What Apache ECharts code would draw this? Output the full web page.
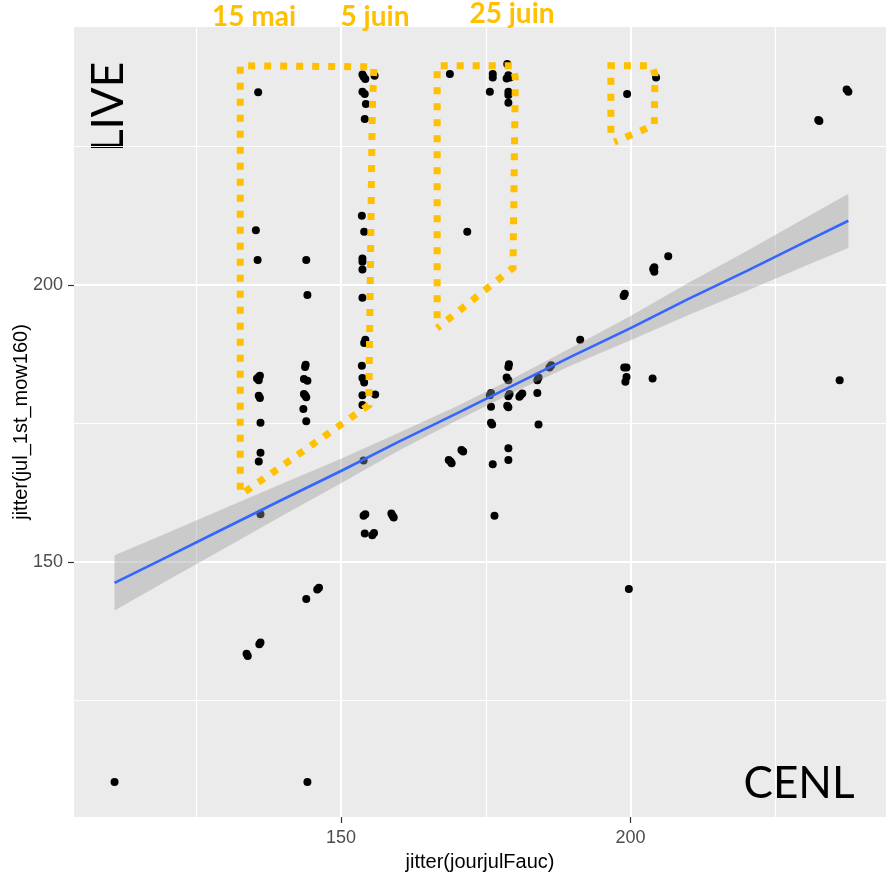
<!DOCTYPE html>
<html>
<head>
<meta charset="utf-8">
<script src="https://cdn.jsdelivr.net/npm/echarts@6/dist/echarts.min.js"></script>
<style>
  html, body { margin: 0; padding: 0; background: #fff; }
  #chart { width: 896px; height: 879px; }
</style>
</head>
<body>
<div id="chart"></div>
<script>
// points: [jitter(jourjulFauc), jitter(jul_1st_mow160)]
var points = [
  [135.7, 234.8], [153.9, 237.6], [154.2, 237.2], [153.7, 238.0], [155.8, 237.8],
  [153.7, 234.9], [154.1, 234.5], [154.3, 232.7], [154.1, 230.0],
  [168.8, 238.1], [176.2, 238.1], [176.2, 237.5], [178.7, 239.9],
  [178.9, 237.9], [179.2, 237.5], [178.6, 237.3], [175.7, 234.9],
  [178.9, 234.9], [178.9, 234.3], [178.9, 232.9], [204.4, 237.5], [199.4, 234.5],
  [232.4, 229.8], [232.6, 229.6], [237.6, 234.9], [237.3, 235.3],
  [135.3, 209.9], [135.6, 204.5], [144.0, 204.5], [144.2, 198.2],
  [153.6, 212.5], [154.0, 209.6], [153.7, 204.8], [153.7, 204.2], [153.7, 202.8],
  [153.7, 197.7], [154.2, 190.1], [154.0, 189.5], [171.8, 209.6],
  [206.5, 205.2], [204.1, 203.2], [204.1, 202.4], [203.9, 202.9],
  [198.8, 198.0], [199.0, 198.4],
  [135.8, 183.4], [135.8, 182.8], [135.5, 183.1], [136.0, 183.6],
  [135.8, 180.0], [136.0, 179.6], [136.1, 175.1], [136.1, 169.7], [135.8, 168.1],
  [136.1, 158.6],
  [143.8, 185.2], [143.9, 185.6], [143.6, 183.0], [144.2, 182.7],
  [143.8, 180.1], [144.0, 179.7], [143.6, 180.3], [143.5, 177.6], [144.0, 175.4],
  [153.6, 185.4], [153.7, 183.2], [154.0, 182.4], [153.7, 180.1], [155.9, 180.2],
  [153.7, 178.3], [153.9, 168.3],
  [153.9, 158.3], [154.2, 158.6], [158.9, 158.3], [158.7, 158.7], [159.1, 158.0],
  [154.1, 155.1], [155.7, 155.2], [155.4, 154.8],
  [144.0, 143.3], [145.9, 145.0], [146.2, 145.3],
  [135.9, 135.1], [136.1, 135.4], [133.7, 133.4], [133.9, 133.0],
  [191.3, 190.1], [186.0, 185.1], [186.3, 185.5], [183.9, 182.8], [184.1, 183.3],
  [183.9, 180.5], [184.1, 174.8],
  [178.9, 185.2], [179.0, 185.7], [178.9, 182.8], [178.6, 183.3],
  [178.9, 179.9], [179.1, 180.3], [178.9, 177.9], [178.7, 178.2],
  [181.0, 180.1], [181.3, 180.4], [180.8, 179.8],
  [175.7, 180.1], [175.9, 180.5], [175.9, 178.0], [175.9, 175.1], [176.1, 174.8],
  [178.9, 170.5], [178.9, 168.4], [176.2, 167.6],
  [168.9, 168.1], [168.6, 168.4], [169.1, 167.8], [170.8, 170.2], [171.1, 169.9],
  [176.5, 158.3],
  [198.9, 185.1], [199.3, 185.1], [199.3, 183.4], [199.1, 182.5], [203.8, 183.1],
  [236.1, 182.8], [199.7, 145.1],
  [110.9, 110.2], [144.2, 110.2]
];

// smoothing line (lm) and its confidence band, read at a few x positions
var fitX    = [110.9, 120, 130, 140, 150, 160, 170, 180, 190, 200, 210, 220, 230, 237.6];
var fitY    = [146.2, 150.9, 156.1, 161.3, 166.4, 171.7, 176.8, 182.0, 187.2, 192.2, 197.5, 202.5, 207.7, 211.6];
var bandHalf = [5.0, 4.3, 3.6, 2.9, 2.2, 1.6, 1.3, 1.3, 1.6, 2.2, 2.9, 3.6, 4.3, 4.9];

var majorBreaks = [150, 200];
var minorBreaks = [125, 175, 225];

// hand drawn outlines (data coordinates)
var outline15mai = [[132.6, 163.0], [132.6, 239.6], [155.7, 239.4], [155.4, 231.6], [154.8, 178.3], [133.1, 162.4]];
var outline25juin = [[166.6, 194.0], [166.6, 239.6], [179.7, 239.6], [180.1, 237.4], [179.7, 203.1], [166.6, 192.2]];
var outline200 = [[196.6, 227.5], [196.6, 239.6], [203.7, 239.6], [204.2, 238.1], [204.1, 228.9], [197.2, 225.8]];

var dateLabels = ['15 mai', '5 juin', '25 juin'];

var chart = echarts.init(document.getElementById('chart'));

var gridLines = [];
majorBreaks.forEach(function (v) {
  gridLines.push({ xAxis: v, lineStyle: { width: 2 } });
  gridLines.push({ yAxis: v, lineStyle: { width: 2 } });
});
minorBreaks.forEach(function (v) {
  gridLines.push({ xAxis: v, lineStyle: { width: 1.2 } });
  gridLines.push({ yAxis: v, lineStyle: { width: 1.2 } });
});

function dotted(data) {
  return {
    type: 'line',
    data: data,
    z: 10,
    showSymbol: false,
    silent: true,
    lineStyle: { color: '#FFC000', width: 7, type: [7, 9], cap: 'butt', join: 'miter' }
  };
}

var fitData = fitX.map(function (x, i) { return [x, fitY[i]]; });

var axisFont = 'Liberation Sans, Arial, sans-serif';

chart.setOption({
  animation: false,
  backgroundColor: '#ffffff',
  grid: {
    left: 74, right: 10, top: 27, bottom: 62,
    containLabel: false,
    outerBoundsMode: 'none',
    show: true, backgroundColor: '#EBEBEB', borderWidth: 0
  },
  xAxis: {
    type: 'value',
    min: 103.9, max: 244.1,
    name: 'jitter(jourjulFauc)',
    nameLocation: 'middle',
    nameGap: 35,
    nameTextStyle: { color: '#000', fontSize: 20, fontFamily: axisFont },
    axisLine: { show: false },
    splitLine: { show: false },
    axisTick: { show: true, customValues: majorBreaks, length: 6, lineStyle: { color: '#333333', width: 1.2 } },
    axisLabel: { customValues: majorBreaks, color: '#4D4D4D', fontSize: 18, fontFamily: axisFont, margin: 12 }
  },
  yAxis: {
    type: 'value',
    min: 103.9, max: 246.6,
    name: 'jitter(jul_1st_mow160)',
    nameLocation: 'middle',
    nameGap: 43,
    nameMoveOverlap: false,
    nameTextStyle: { color: '#000', fontSize: 20, fontFamily: axisFont },
    axisLine: { show: false },
    splitLine: { show: false },
    axisTick: { show: true, customValues: majorBreaks, length: 6, lineStyle: { color: '#333333', width: 1.2 } },
    axisLabel: { customValues: majorBreaks, color: '#4D4D4D', fontSize: 18, fontFamily: axisFont, margin: 11 }
  },
  series: [
    {
      type: 'scatter',
      data: [],
      z: 1,
      silent: true,
      markLine: {
        z: 1,
        silent: true,
        symbol: ['none', 'none'],
        label: { show: false },
        lineStyle: { color: '#FFFFFF', type: 'solid' },
        data: gridLines
      }
    },
    {
      type: 'scatter',
      data: points,
      z: 2,
      symbol: 'circle',
      symbolSize: 8,
      itemStyle: { color: '#000000', opacity: 1 }
    },
    {
      type: 'custom',
      z: 3,
      silent: true,
      data: [0],
      renderItem: function (params, api) {
        var pts = [];
        for (var i = 0; i < fitX.length; i++) pts.push(api.coord([fitX[i], fitY[i] + bandHalf[i]]));
        for (var j = fitX.length - 1; j >= 0; j--) pts.push(api.coord([fitX[j], fitY[j] - bandHalf[j]]));
        return {
          type: 'polygon',
          shape: { points: pts },
          style: { fill: 'rgba(153,153,153,0.4)' }
        };
      }
    },
    {
      type: 'line',
      data: fitData,
      z: 4,
      showSymbol: false,
      silent: true,
      lineStyle: { color: '#3366FF', width: 2.6 }
    },
    dotted(outline15mai),
    dotted(outline25juin),
    dotted(outline200)
  ],
  graphic: [
    { type: 'text', x: 254, y: 17, style: { text: dateLabels[0], fill: '#FFC000', font: 'bold 28px Lato, sans-serif', textAlign: 'center', textVerticalAlign: 'middle' } },
    { type: 'text', x: 375, y: 17, style: { text: dateLabels[1], fill: '#FFC000', font: 'bold 28px Lato, sans-serif', textAlign: 'center', textVerticalAlign: 'middle' } },
    { type: 'text', x: 512, y: 14, style: { text: dateLabels[2], fill: '#FFC000', font: 'bold 28px Lato, sans-serif', textAlign: 'center', textVerticalAlign: 'middle' } },
    { type: 'text', x: 109, y: 107, rotation: Math.PI / 2, style: { text: 'LIVE', fill: '#000', font: '44px Lato, sans-serif', textAlign: 'center', textVerticalAlign: 'middle' } },
    { type: 'text', x: 799, y: 784, style: { text: 'CENL', fill: '#000', font: '44px Lato, sans-serif', textAlign: 'center', textVerticalAlign: 'middle' } }
  ]
});
</script>
</body>
</html>
